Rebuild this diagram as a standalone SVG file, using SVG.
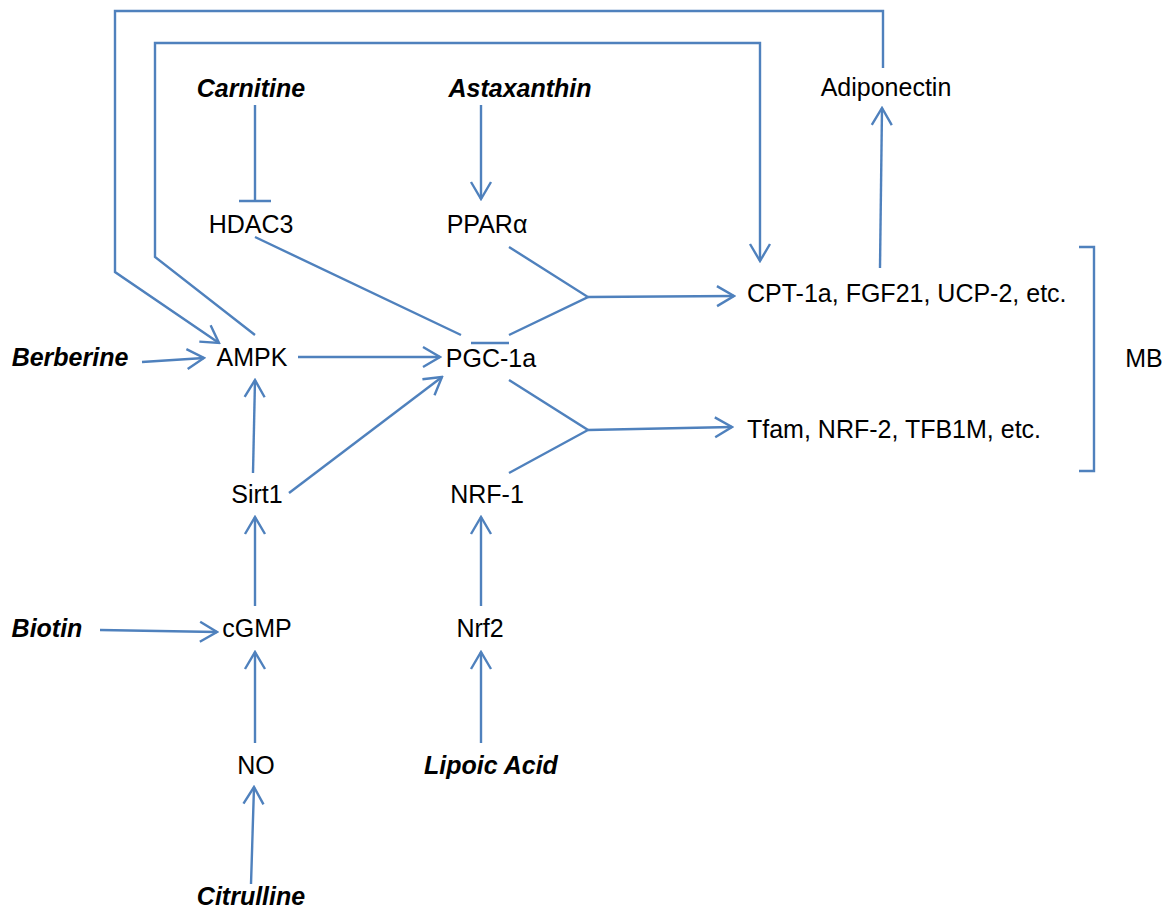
<svg xmlns="http://www.w3.org/2000/svg" width="1169" height="916" viewBox="0 0 1169 916">
<style>
.t{font-family:"Liberation Sans",Arial,sans-serif;font-size:25px;fill:#000;text-anchor:middle}
.d{font-family:"Liberation Sans",Arial,sans-serif;font-size:25px;font-weight:bold;font-style:italic;fill:#000;text-anchor:middle}
.s{text-anchor:start}
.c{fill:none;stroke:#4F81BD;stroke-width:2.4;stroke-linejoin:miter}
.a{marker-end:url(#ah)}
</style>
<defs>
<marker id="ah" viewBox="-20 -12 22 24" refX="0" refY="0" markerWidth="22" markerHeight="24" markerUnits="userSpaceOnUse" orient="auto">
<path d="M-17,-10 L0,0 L-17,10" fill="none" stroke="#4F81BD" stroke-width="2.4"/>
</marker>
</defs>
<rect width="1169" height="916" fill="#fff"/>
<g id="connectors">
<path class="c a" d="M883,68 L883,11 L115,11 L115,272 L219,343"/>
<path class="c a" d="M255,335 L155,257 L155,43 L760,43 L760,261"/>
<path class="c" d="M255,105 L255,201 M239,201 L271,201"/>
<path class="c a" d="M481,105 L481,199"/>
<path class="c" d="M255,237 L461,335 M471,343 L509,343"/>
<path class="c" d="M509,247 L588,297 L509,335"/>
<path class="c a" d="M588,297 L734,296"/>
<path class="c a" d="M142,362 L204,358"/>
<path class="c a" d="M298,357 L440,357"/>
<path class="c a" d="M253,473 L255,380"/>
<path class="c a" d="M289,493 L442,377"/>
<path class="c" d="M509,380 L588,430 L509,473"/>
<path class="c a" d="M588,430 L732,427"/>
<path class="c a" d="M255,606 L255,517"/>
<path class="c a" d="M100,630 L217,632"/>
<path class="c a" d="M481,606 L481,517"/>
<path class="c a" d="M255,743 L255,652"/>
<path class="c a" d="M481,743 L481,652"/>
<path class="c a" d="M251,884 L254,787"/>
<path class="c a" d="M880,268 L882,108"/>
<path class="c" d="M1079,247 L1094,247 L1094,471 L1079,471"/>
</g>
<g id="carnitine"><text class="d" x="251" y="97">Carnitine</text></g>
<g id="astaxanthin"><text class="d" x="520" y="97">Astaxanthin</text></g>
<g id="adiponectin"><text class="t" x="886" y="96">Adiponectin</text></g>
<g id="hdac3"><text class="t" x="251" y="233">HDAC3</text></g>
<g id="ppara"><text class="t" x="487" y="233">PPARα</text></g>
<g id="cpt"><text class="t s" x="747" y="302">CPT-1a, FGF21, UCP-2, etc.</text></g>
<g id="berberine"><text class="d" x="70" y="366">Berberine</text></g>
<g id="ampk"><text class="t" x="252" y="366">AMPK</text></g>
<g id="pgc1a"><text class="t" x="491" y="367">PGC-1a</text></g>
<g id="mb"><text class="t" x="1144" y="367">MB</text></g>
<g id="tfam"><text class="t s" x="747" y="438">Tfam, NRF-2, TFB1M, etc.</text></g>
<g id="sirt1"><text class="t" x="257" y="503">Sirt1</text></g>
<g id="nrf1"><text class="t" x="487" y="503">NRF-1</text></g>
<g id="biotin"><text class="d" x="47" y="637">Biotin</text></g>
<g id="cgmp"><text class="t" x="257" y="637">cGMP</text></g>
<g id="nrf2"><text class="t" x="480" y="637">Nrf2</text></g>
<g id="no"><text class="t" x="256" y="774">NO</text></g>
<g id="lipoic"><text class="d" x="491" y="774">Lipoic Acid</text></g>
<g id="citrulline"><text class="d" x="251" y="905">Citrulline</text></g>
</svg>
